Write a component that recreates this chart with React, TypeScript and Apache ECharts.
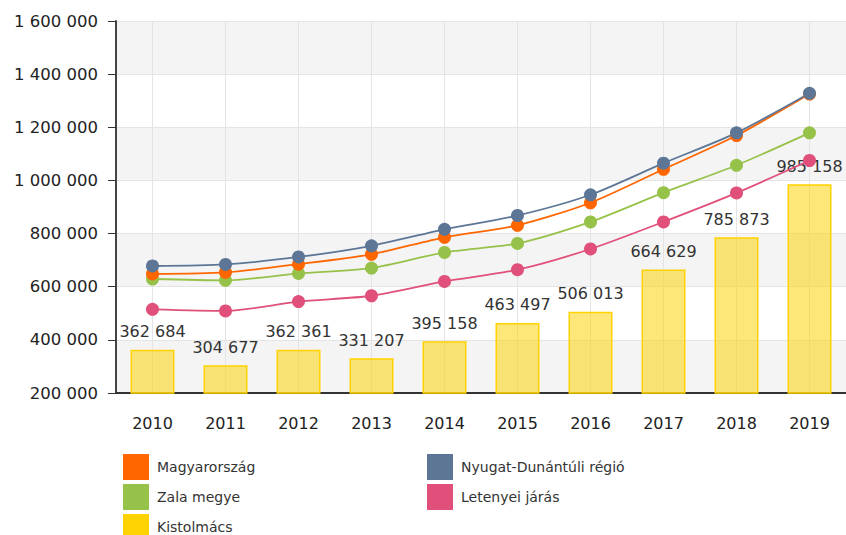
import React, { useEffect, useRef } from "react";
import * as echarts from "echarts";

const years = ["2010", "2011", "2012", "2013", "2014", "2015", "2016", "2017", "2018", "2019"];
const magyarorszag = [648000, 654000, 685000, 722000, 786000, 831000, 916000, 1042000, 1169000, 1325000];
const nyugat = [678000, 684000, 712000, 754000, 816000, 868000, 946000, 1065000, 1179000, 1328000];
const zala = [629000, 624000, 650000, 670000, 729000, 763000, 844000, 954000, 1057000, 1179000];
const letenyei = [515000, 509000, 544000, 566000, 620000, 664000, 742000, 844000, 953000, 1075000];
const kistolmacs = [362684, 304677, 362361, 331207, 395158, 463497, 506013, 664629, 785873, 985158];

const FONT = "DejaVu Sans, Verdana, sans-serif";
const fmt = (v: number) => String(Math.round(v)).replace(/\B(?=(\d{3})+(?!\d))/g, " ");

const C_ORANGE = "#ff6600";
const C_BLUE = "#5d7696";
const C_GREEN = "#97c24a";
const C_PINK = "#e0507a";
const C_YELLOW = "#ffd200";

const legendItems = [
  { name: "Magyarország", left: 123, top: 454, color: C_ORANGE },
  { name: "Zala megye", left: 123, top: 484, color: C_GREEN },
  { name: "Kistolmács", left: 123, top: 514, color: C_YELLOW },
  { name: "Nyugat-Dunántúli régió", left: 427, top: 454, color: C_BLUE },
  { name: "Letenyei járás", left: 427, top: 484, color: C_PINK },
];

export default function App() {
  const ref = useRef<HTMLDivElement>(null);
  useEffect(() => {
    document.body.style.margin = "0";
    const chart = echarts.init(ref.current!, null, { renderer: "svg" });
    const lineSeries = (name: string, data: number[], color: string) => ({
      name,
      type: "line",
      data,
      smooth: 0.25,
      symbol: "circle",
      symbolSize: 13,
      itemStyle: { color },
      lineStyle: { color, width: 1.8 },
      z: 3,
    });
    chart.setOption({
      animation: false,
      textStyle: { fontFamily: FONT },
      grid: { left: 116, right: 0, top: 21, bottom: 142 },
      legend: legendItems.map((it) => ({
        orient: "horizontal",
        left: it.left,
        top: it.top,
        padding: 0,
        itemWidth: 26,
        itemHeight: 26,
        icon: "rect",
        selectedMode: false,
        textStyle: { fontSize: 14, color: "#333", fontFamily: FONT, padding: [0, 0, 0, 3] },
        data: [{ name: it.name, itemStyle: { color: it.color, borderWidth: 0, opacity: 1 } }],
      })),
      xAxis: {
        type: "category",
        data: years,
        axisLine: { lineStyle: { color: "#333", width: 2 } },
        axisTick: { alignWithLabel: true, length: 7, lineStyle: { color: "#333" } },
        axisLabel: { fontSize: 16, color: "#222", margin: 22, fontFamily: FONT },
        splitLine: { show: true, alignWithLabel: true, lineStyle: { color: "#e4e4e4" } },
      },
      yAxis: {
        type: "value",
        min: 200000,
        max: 1600000,
        interval: 200000,
        axisLine: { show: true, lineStyle: { color: "#444", width: 2 } },
        axisTick: { show: true, length: 8, lineStyle: { color: "#333" } },
        axisLabel: { fontSize: 16.5, color: "#222", margin: 18, formatter: fmt, fontFamily: FONT },
        splitLine: { show: true, lineStyle: { color: "#e4e4e4" } },
        splitArea: { show: true, areaStyle: { color: ["#f4f4f4", "#ffffff"] } },
      },
      series: [
        {
          name: "Kistolmács",
          type: "bar",
          data: kistolmacs,
          barWidth: 44,
          itemStyle: { color: "rgba(250,212,10,0.55)", borderColor: C_YELLOW, borderWidth: 1.5 },
          label: {
            show: true,
            position: "top",
            distance: 10,
            fontSize: 16,
            color: "#333",
            fontFamily: FONT,
            formatter: (p: any) => fmt(p.value),
          },
          z: 2,
        },
        lineSeries("Letenyei járás", letenyei, C_PINK),
        lineSeries("Zala megye", zala, C_GREEN),
        lineSeries("Magyarország", magyarorszag, C_ORANGE),
        lineSeries("Nyugat-Dunántúli régió", nyugat, C_BLUE),
      ],
    });
    return () => chart.dispose();
  }, []);
  return <div ref={ref} style={{ width: 846, height: 535 }} />;
}
